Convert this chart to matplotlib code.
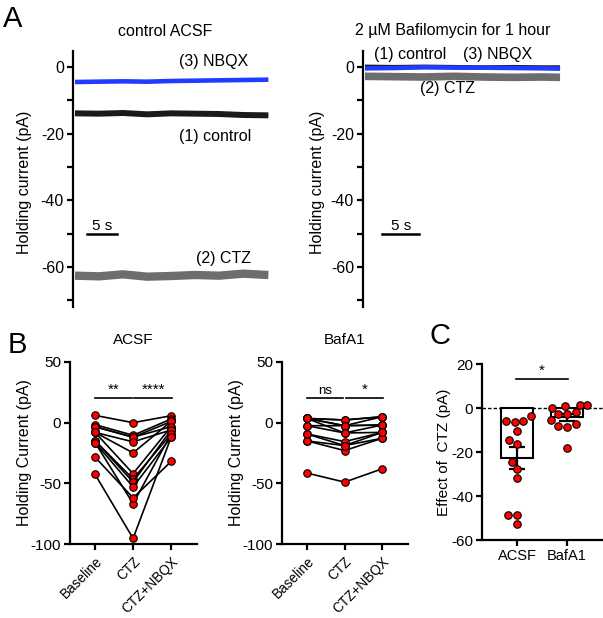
import numpy as np
import matplotlib.pyplot as plt

plt.rcParams['font.family'] = ['Liberation Sans', 'DejaVu Sans']
plt.rcParams['axes.unicode_minus'] = False

W, H = 603, 618
FS = 11.5

# Panel A: holding current traces (pA) sampled along the sweep (s)
acsf_time = [0, 4, 8, 12, 16, 20, 24, 28, 32.2]
acsf_control = [-13.9, -14.0, -13.8, -14.2, -13.9, -14.0, -14.1, -14.4, -14.5]
acsf_ctz = [-62.6, -62.8, -62.2, -62.9, -62.7, -62.4, -62.6, -62.0, -62.4]
acsf_nbqx = [-4.5, -4.4, -4.3, -4.4, -4.2, -4.1, -4.0, -3.9, -3.8]

baf_time = [0, 4, 8, 12, 16, 20, 24, 26.4]
baf_control = [0.1, 0.0, 0.1, 0.0, -0.1, 0.0, -0.1, -0.1]
baf_ctz = [-2.8, -2.9, -3.0, -2.8, -3.0, -3.1, -3.0, -3.1]
baf_nbqx = [-0.4, -0.3, -0.1, -0.2, -0.2, -0.3, -0.4, -0.5]

# Panel B: paired holding currents (pA)
conditions = ['Baseline', 'CTZ', 'CTZ+NBQX']
acsf_baseline = [6, -1.6, -3.3, -3.3, -8, -8, -8, -14.8, -14.8, -16.4, -16.4, -28.4, -42.6]
acsf_ctz_pts = [0, -10.4, -12, -12, -15.8, -24.9, -42, -46.4, -48.9, -53, -66.7, -62, -95.4]
acsf_nbqx_pts = [5.7, 3, 1, -3.3, -6, 1, -3.3, -9.3, -6, -12, -9.3, -32, -12]

baf_baseline = [3.5, 3.5, 3.5, 3.5, -2.5, -2.5, 3.5, -9.3, -9.3, -15, -15, -41.5]
baf_ctz_pts = [2.2, 2.2, -2.5, -2.5, -2.5, -8.5, -8.5, -15.6, -18.9, -23, -18.9, -49]
baf_nbqx_pts = [4.9, 4.9, 4.9, -1.9, -1.9, -1.9, -8, -8, -12.8, -12.8, -8, -38]

# Panel C: effect of CTZ (pA)
groups = ['ACSF', 'BafA1']
effect_acsf = [-5.8, -6.5, -3.6, -5.8, -10.3, -14.7, -16.5, -24.7, -27.9, -32, -48.5, -48.5, -52.7]
effect_baf = [1.4, 1.1, 1.4, 0, -2.7, -5.5, -2, -2.7, -7.4, -8, -8.5, -18.3]

BLUE = '#1f3cff'
GRAY = '#6d6d6d'
RED = '#ff0000'

fig = plt.figure(figsize=(W / 100, H / 100), dpi=100)


def add_ax(left, top, right, bottom):
    return fig.add_axes([left / W, 1 - bottom / H, (right - left) / W, (bottom - top) / H])


def ftext(x, y, s, **kw):
    kw.setdefault('fontsize', FS)
    kw.setdefault('ha', 'center')
    kw.setdefault('va', 'center')
    fig.text(x / W, 1 - y / H, s, **kw)


def style(ax, fs=FS):
    for s in ['top', 'right']:
        ax.spines[s].set_visible(False)
    for s in ['left', 'bottom']:
        ax.spines[s].set_linewidth(1.6)
    ax.tick_params(width=1.6, length=4.5, pad=2, labelsize=fs)


def swarm(values, ppu_y, ppu_x, diam=8.6):
    # simple beeswarm: nearest free horizontal slot in pixel space
    vals = np.asarray(values, dtype=float)
    offs = np.zeros(len(vals))
    placed = []
    cands = sorted(np.arange(-20, 20.25, 0.5), key=abs)
    for i in np.argsort(vals):
        y = vals[i] * ppu_y
        for c in cands:
            if all((c - px) ** 2 + (y - py) ** 2 >= diam ** 2 for px, py in placed):
                break
        placed.append((c, y))
        offs[i] = c / ppu_x
    return offs


# ---------------- Panel A ----------------
yt = list(range(0, -80, -10))
ytl = ['0', '', '-20', '', '-40', '', '-60', '']

axA1 = add_ax(73, 51, 290, 307)
style(axA1)
axA1.spines['bottom'].set_visible(False)
axA1.set_xticks([])
axA1.plot(acsf_time, acsf_nbqx, color=BLUE, lw=3.3, solid_capstyle='butt')
axA1.plot(acsf_time, acsf_control, color='#1a1a1a', lw=4.3, solid_capstyle='butt')
axA1.plot(acsf_time, acsf_ctz, color=GRAY, lw=6.0, solid_capstyle='butt')
axA1.plot([2, 7], [-50, -50], color='k', lw=1.8)
axA1.text(4.5, -47.6, '5 s', ha='center', va='center', fontsize=FS - 0.5)
axA1.text(23.0, 1.6, '(3) NBQX', ha='center', va='center', fontsize=FS)
axA1.text(23.3, -21.0, '(1) control', ha='center', va='center', fontsize=FS)
axA1.text(24.7, -57.6, '(2) CTZ', ha='center', va='center', fontsize=FS)
axA1.set_xlim(-0.33, 35.8)
axA1.set_ylim(-72, 4.8)
axA1.set_yticks(yt)
axA1.set_yticklabels(ytl)

axA2 = add_ax(363, 51, 580, 307)
style(axA2)
axA2.spines['bottom'].set_visible(False)
axA2.set_xticks([])
axA2.plot(baf_time, baf_ctz, color=GRAY, lw=5.5, solid_capstyle='butt')
axA2.plot(baf_time, baf_control, color='#1a1a1a', lw=3.0, solid_capstyle='butt')
axA2.plot(baf_time, baf_nbqx, color=BLUE, lw=3.3, solid_capstyle='butt')
axA2.plot([2.3, 7.3], [-50, -50], color='k', lw=1.8)
axA2.text(4.9, -47.6, '5 s', ha='center', va='center', fontsize=FS - 0.5)
axA2.text(6.1, 3.8, '(1) control', ha='center', va='center', fontsize=FS)
axA2.text(18.0, 3.8, '(3) NBQX', ha='center', va='center', fontsize=FS)
axA2.text(11.1, -6.6, '(2) CTZ', ha='center', va='center', fontsize=FS)
axA2.set_xlim(-0.27, 29.1)
axA2.set_ylim(-72, 4.8)
axA2.set_yticks(yt)
axA2.set_yticklabels(ytl)

ftext(165, 31, 'control ACSF')
ftext(453, 31, '2 \u00b5M Bafilomycin for 1 hour')
ftext(25, 182, 'Holding current (pA)', rotation=90)
ftext(317, 182, 'Holding current (pA)', rotation=90)
ftext(13, 19, 'A', fontsize=21)


# ---------------- Panel B ----------------
def paired(ax, base, ctz, nbqx, title, sig):
    style(ax, 11)
    xs = range(len(conditions))
    for row in zip(base, ctz, nbqx):
        ax.plot(xs, row, '-o', color='k', lw=1.2, ms=5.4, mfc=RED, mec='k', mew=0.8)
    ax.set_xlim(-0.658, 2.68)
    ax.set_ylim(-100, 50)
    ax.set_yticks([50, 0, -50, -100])
    ax.set_yticklabels(['50', '0', '-50', '-100'])
    ax.set_xticks(list(xs))
    ax.set_xticklabels(conditions, rotation=45, ha='right', rotation_mode='anchor',
                       fontsize=9.8)
    ax.tick_params(axis='x', pad=3)
    ax.set_title(title, fontsize=11, pad=13)
    for (x0, x1), s in zip([(0, 0.97), (1.03, 2.03)], sig):
        ax.plot([x0, x1], [20.5, 20.5], color='k', lw=1.2)
        ax.text((x0 + x1) / 2, 21.5, s, ha='center', va='bottom',
                fontsize=11 if s != 'ns' else 9.5)


axB1 = add_ax(70, 362, 197, 544)
paired(axB1, acsf_baseline, acsf_ctz_pts, acsf_nbqx_pts, 'ACSF', ['**', '****'])
axB2 = add_ax(282, 362, 408, 544)
paired(axB2, baf_baseline, baf_ctz_pts, baf_nbqx_pts, 'BafA1', ['ns', '*'])
ftext(25, 453, 'Holding Current (pA)', rotation=90)
ftext(237, 453, 'Holding Current (pA)', rotation=90)
ftext(17, 345, 'B', fontsize=21)

# ---------------- Panel C ----------------
axC = add_ax(482, 364, 612, 540)
style(axC, 11)
axC.axhline(0, color='k', lw=1.0, ls=(0, (2.5, 1.5)), zorder=1)
effects = [effect_acsf, effect_baf]
means = [np.mean(e) for e in effects]
sems = [np.std(e, ddof=1) / np.sqrt(len(e)) for e in effects]
axC.bar(range(len(groups)), means, width=0.65, color='white', edgecolor='k', lw=1.5, zorder=2)
axC.errorbar(range(len(groups)), means, yerr=sems, fmt='none', ecolor='k',
             elinewidth=1.6, capsize=5.5, capthick=1.6, zorder=3)
for i, e in enumerate(effects):
    offs = swarm(e, 2.2, 50)
    axC.plot(i + offs, e, 'o', ms=5.4, mfc=RED, mec='k', mew=0.8, zorder=4, ls='none')
axC.plot([-0.02, 1.02], [13.2, 13.2], color='k', lw=1.2)
axC.text(0.5, 13.8, '*', ha='center', va='bottom', fontsize=11)
axC.set_xlim(-0.7, 1.9)
axC.set_ylim(-60, 20)
axC.set_yticks([20, 0, -20, -40, -60])
axC.set_yticklabels(['20', '0', '-20', '-40', '-60'])
axC.set_xticks(range(len(groups)))
axC.set_xticklabels(groups, fontsize=10.5)
ftext(444, 452, 'Effect of  CTZ (pA)', rotation=90, fontsize=11)
ftext(440, 336, 'C', fontsize=21)

fig.savefig('out.png', dpi=100)
